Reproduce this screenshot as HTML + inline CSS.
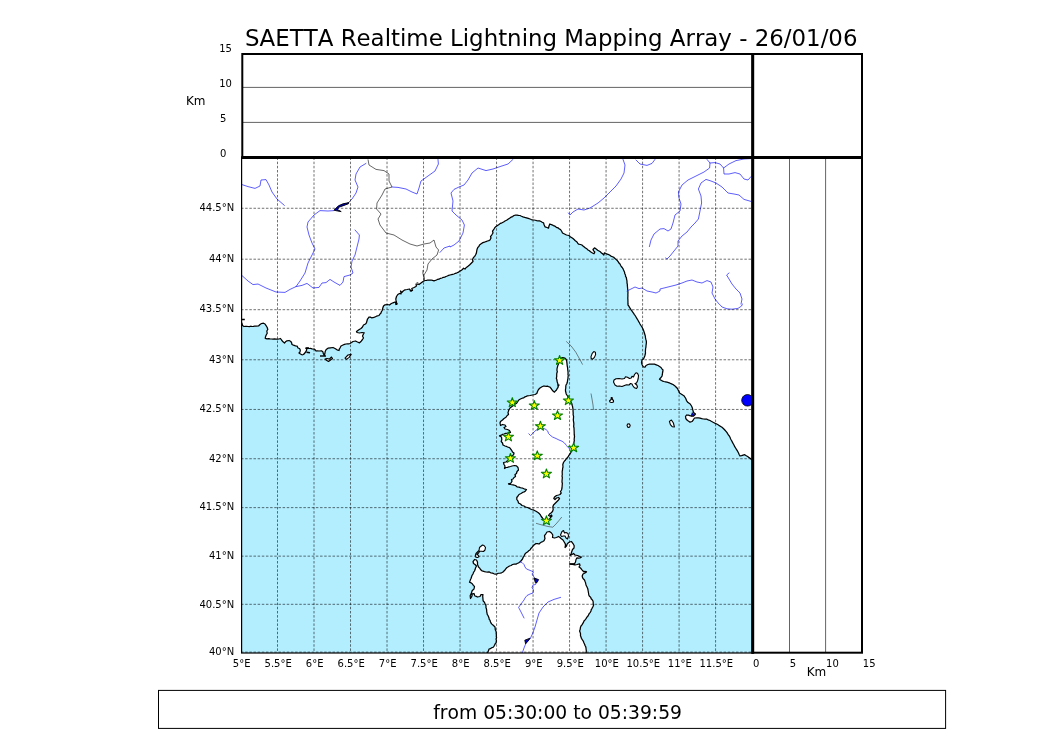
<!DOCTYPE html>
<html lang="en"><head><meta charset="utf-8"><title>SAETTA Realtime Lightning Mapping Array</title>
<style>html,body{margin:0;padding:0;background:#fff}svg{display:block}</style></head>
<body>
<svg width="1050" height="750" viewBox="0 0 1050 750" font-family="'DejaVu Sans', 'Liberation Sans', sans-serif" fill="#000">
<rect width="1050" height="750" fill="#fff"/>
<defs><clipPath id="mc"><rect x="241.6" y="157.5" width="511.1" height="495.5"/></clipPath></defs>
<g clip-path="url(#mc)">
<rect x="241" y="157.5" width="513" height="495.5" fill="#b3eeff"/>
<path d="M239 322.5 L241 322.5 L241.8 323 L242.5 325.5 L244 326.5 L245.33 326.39 L246.67 326.28 L248 326.5 L249.33 326.6 L250.67 326.23 L252 326.5 L253.34 326.42 L254.66 326.21 L256 326.2 L258.5 326 L260 324.5 L261.5 323.5 L263.5 323.2 L265 324 L266.2 325.8 L267.2 327.5 L267.8 329.5 L266.8 331 L267.2 333.2 L266.2 335 L265.5 336.8 L265.2 338.3 L267 338.8 L268.5 338.52 L270 338.8 L271.5 339 L273 339.2 L274.5 338.9 L276 339.2 L277.5 339.06 L279 339 L280.5 338.5 L281.5 340 L283 341.8 L284.5 343 L285.5 341.8 L287 340.8 L289 340.5 L290.5 341.2 L291.5 342.5 L292 344.5 L293.5 345.2 L295.5 345.8 L297.2 346.2 L298 348 L299.5 348.5 L300.3 350 L300 352 L299 353 L300.5 354 L302 354.8 L303.5 354.5 L304.8 353 L306 351.5 L306.8 349.5 L306 348.4 L307.51 348.17 L309 348.5 L310.53 348.39 L312 348.8 L314.5 349.2 L316.2 351 L317.6 350.95 L319 351 L321.5 350.8 L323 352 L323.2 353.31 L323.8 354.5 L324.2 355.6 L324.8 354 L325.2 351.5 L326.2 349.5 L328 348.2 L330.5 347.8 L333 347.5 L335 348.5 L337 349.8 L339 350.5 L339.28 349.16 L340 348 L341 346 L343 345 L344.44 344.33 L346 344 L347.34 343.91 L348.7 343.95 L350 343.5 L351.53 342.54 L353 341.5 L355.5 341 L357.5 342 L359.5 342.8 L361.2 341.2 L362.5 339.5 L363.5 338 L362.5 336 L363.5 334 L364.2 332.8 L362 332.5 L359.5 333 L357 332.5 L356.5 331.5 L358.5 330 L359.72 329.19 L361 328.5 L362.5 327 L363.5 325 L365.5 324 L366.42 322.89 L366.8 321.5 L367.5 319 L369 317 L370.34 317.12 L371.5 317.8 L373.04 317.72 L374.5 317.2 L376.5 316.2 L379 315.5 L379.89 314.17 L381 313 L381.39 311.65 L382.2 310.5 L382.8 308 L383.5 306 L385 304.8 L387.5 304.5 L389.5 305 L391 303.8 L393 302.8 L395 302 L395.73 303.16 L396 304.5 L397.2 304 L396.59 302.8 L396.2 301.5 L395.8 299 L396.5 296.5 L397.8 294.5 L399.5 293.5 L401 293.8 L400.95 292.36 L400.5 291 L401.8 292.5 L403.2 291 L405 289.8 L407 289.5 L409.5 289 L411 291 L412.5 290.5 L411.8 288.5 L414 287.5 L416 286.5 L416.42 285.16 L417.2 284 L419 284.5 L421 283 L423 281.5 L425 280.5 L426.51 280.3 L428 280 L429.5 280.09 L431 280 L432.52 280.32 L434 280.8 L435.26 280.43 L436.5 280 L437.66 279.33 L439 279.2 L440.4 278.34 L442 278 L443.27 277.32 L444.71 277.11 L446 276.5 L447.32 275.96 L448.62 275.39 L450 275 L451.35 274.72 L452.66 274.3 L454 274 L455.45 273.28 L457 272.8 L458.6 272.06 L460 271 L461.32 270.36 L462.5 269.5 L463.5 268.2 L465 269 L465.88 267.88 L467 267 L468.28 266.04 L469.5 265 L470.51 264.01 L471.5 263 L473 261.5 L472.5 259.5 L473.5 257.5 L474.69 256.4 L475.5 255 L476.14 253.8 L476.5 252.5 L476.8 250.5 L477.17 248.96 L477.8 247.5 L478.9 246.42 L479.5 245 L481.5 243.5 L482.9 242.63 L484.5 242.2 L485.98 241.55 L487.5 241 L488.81 240.65 L490 240 L491 238 L490.5 236.5 L492 234.5 L493 233 L492.5 231 L494 229 L494.83 227.61 L496 226.5 L497.5 225.49 L499 224.5 L500.35 223.39 L502 222.8 L503.56 221.99 L505 221 L506.58 220.3 L508 219.3 L509.53 218.29 L511 217.2 L512.62 216.56 L514 215.5 L515.49 215.23 L517 215.2 L518.49 215.47 L520 215.5 L521.48 216.21 L523 216.8 L524.74 217.35 L526.5 217.8 L528.26 218.37 L530 219 L531.28 219.54 L532.6 219.94 L534 220 L535.34 220.25 L536.65 220.64 L538 220.8 L539.56 220.88 L541 221.5 L542.19 222.26 L543.5 222.8 L544.2 225 L545 226.8 L547 227.5 L548.5 228.2 L549 226 L549.8 224 L552 224.8 L553.46 225.59 L555 226.2 L556.35 227.28 L558 227.8 L559.13 228.82 L560.5 229.5 L561.8 231.5 L562.5 233 L564.5 234 L566.5 235 L569 235.5 L570.5 237 L571.82 237.63 L573 238.5 L574.05 239.45 L575 240.5 L577 242 L577.66 243.16 L578.5 244.2 L580.5 244.5 L581.91 244.99 L583 246 L584.27 246.98 L585.5 248 L586.88 248.83 L588 250 L589.39 250.7 L590.5 251.8 L592.5 253 L594 253.8 L594.8 252 L593.67 250.91 L593 249.5 L594.5 247.8 L596.5 249.2 L597.65 250.24 L599 251 L600.4 251.81 L601.5 253 L602.76 253.88 L603.8 255 L604.5 252.8 L606.5 253.8 L608.03 254.34 L609.5 255 L610.88 256.1 L612.5 256.8 L613.9 257.43 L615 258.5 L616.27 259.63 L617.5 260.8 L618.31 261.89 L618.97 263.08 L620 264 L620.56 265.28 L621.27 266.46 L622.2 267.5 L622.93 268.6 L623.45 269.81 L624 271 L624.58 272.3 L624.77 273.75 L625.5 275 L625.55 276.4 L626.38 277.61 L626.5 279 L626.87 280.31 L627 281.65 L627 283 L627.34 284.31 L627.34 285.67 L627.5 287 L627.59 288.51 L627.8 290 L627.8 290 L627.88 291.36 L627.96 292.73 L627.87 294.09 L627.9 295.45 L627.87 296.82 L627.8 298.18 L627.88 299.55 L627.94 300.91 L627.94 302.27 L627.94 303.64 L628 305 L628.89 306.14 L629.52 307.45 L630.34 308.64 L631.13 309.85 L632 311 L632.74 312.24 L633.62 313.39 L634.42 314.59 L635.28 315.75 L636 317 L636.64 318.18 L637.42 319.28 L638.09 320.45 L638.73 321.63 L639.4 322.79 L640 324 L640.78 325.23 L641.59 326.44 L642.35 327.69 L643 329 L643.58 330.47 L644.09 331.97 L644.53 333.49 L645 335 L645.39 336.38 L645.47 337.82 L645.81 339.21 L646.2 340.58 L646.4 342 L646.31 343.34 L646.14 344.67 L645.98 346 L645.89 347.34 L645.57 348.66 L645.5 350 L645.38 351.5 L645.5 353 L645.16 354.5 L644.8 356 L644.15 357.5 L643.5 359 L642 360 L641.5 362.5 L642.2 365 L643.5 367 L645 367.2 L646 365.5 L648 364.5 L649.48 364.15 L651 364 L652.76 364 L654.5 364.2 L656.26 364.81 L658 365.5 L659.53 366.45 L661 367.5 L661.94 368.8 L663 370 L662.83 371.51 L662.5 373 L662.36 374.52 L662 376 L660.5 378 L659.5 379.2 L661.5 380.5 L662.71 381.1 L664 381.5 L665.5 381.86 L667 382.2 L668.53 382.62 L670 383.2 L671.5 383.86 L673 384.5 L674.32 385.41 L675.5 386.5 L676.5 387.5 L677.5 388.5 L678.05 389.8 L678.8 391 L679.5 393 L681.5 394.2 L682.7 395.07 L684 395.8 L684.71 396.93 L685.5 398 L686.05 399.23 L686.5 400.5 L688 402.5 L689.12 403.22 L690.2 404 L691.5 406 L692.07 407.22 L692.5 408.5 L693 411 L693.8 412.8 L695.5 414 L694.45 414.95 L693.5 416 L691 416 L689.75 415.59 L688.5 415.2 L686.5 415 L685.5 416.5 L685.8 418.5 L686.6 419.54 L687.5 420.5 L688.77 421.32 L690 422.2 L692 421.5 L693.5 419.5 L694.5 418 L697 417.8 L698.51 417.93 L700 418.2 L701.73 418.67 L703.5 419 L705 419.12 L706.5 419 L708.22 419.83 L710 420.5 L711.3 421.3 L712.62 422.04 L713.97 422.72 L715.32 423.38 L716.7 424 L718.06 424.77 L719.35 425.65 L720.69 426.45 L722 427.3 L723.08 428.22 L724.08 429.22 L725.04 430.26 L726 431.3 L726.87 432.44 L727.61 433.68 L728.39 434.89 L729.3 436 L729.99 437.32 L730.56 438.7 L731.22 440.03 L732 441.3 L732.58 442.7 L733.38 443.99 L734.09 445.32 L734.7 446.7 L735.58 447.99 L736.41 449.31 L737.24 450.64 L738 452 L738.64 453.35 L739.25 454.71 L740 456 L741.59 455.65 L743.13 455.13 L744.7 454.7 L746.33 455.73 L748 456.7 L749.13 457.66 L750.41 458.42 L751.5 459.43 L752.7 460.3 L755.1 462.3 L755.1 154.5 L239 154.5Z" fill="#fff" stroke="#000" stroke-width="1.25" stroke-linejoin="round"/>
<path d="M559 385 L558.27 386.16 L558 387.5 L557.1 388.66 L556.5 390 L555.39 391 L554.5 392.2 L553 391 L551.5 389 L550 387.2 L548.75 386.71 L547.5 386.2 L545.99 386.29 L544.5 386 L543.2 386.23 L542 386.8 L540 388 L538.5 389.5 L537.5 391.5 L536.8 393.5 L535 394.5 L532.5 395 L530 395.5 L527.5 395.8 L526.29 396.39 L525 396.8 L523.5 398 L522.19 398.23 L521 398.8 L519 399.8 L517.8 401.5 L516.5 403.5 L515.1 404.01 L514 405 L512 406.5 L510 408 L508.8 410 L508.46 411.27 L508 412.5 L508.5 414.5 L507.2 415.5 L506 417.2 L504 418.5 L502.5 420 L500.5 421.5 L500 423 L500.5 425.5 L502.5 424.5 L505 425 L506 426.5 L504 427.5 L505 429 L507.5 429.5 L509.5 430.5 L510.5 432.5 L509.01 432.91 L507.5 433.2 L505.69 433.34 L504 434 L502.62 434.37 L501.4 435.19 L500 435.5 L499.5 436 L501.5 437 L501.8 439.5 L501.2 441.5 L502.5 443 L503 445 L505 446 L506.33 446.29 L507.5 447 L508.83 447.31 L510 448 L511.5 450 L512.5 452 L514 453 L513.5 455 L512 455.5 L511.12 456.55 L510.51 457.74 L510 459 L508.79 460.17 L507.22 460.84 L506 462 L503.5 462.5 L504 464.5 L505 466 L504.5 468.5 L506 467.5 L507.57 467.43 L509 466.8 L510.52 466.49 L512 466 L514.5 465.5 L516.5 465.8 L518 467.5 L518.5 470 L517 471.5 L516.5 473.5 L515 474.5 L515.5 476.5 L514 477.5 L513 479 L511.5 479.5 L512 481.2 L511 483 L509.78 483.49 L508.5 483.8 L510.5 484.5 L513 484.8 L515.5 485.5 L517 486.8 L519 487.2 L520.24 487.63 L521.5 488 L522.82 488.19 L524 488.8 L526.5 489.5 L525.5 491 L524.38 491.86 L523 492.2 L521 493.5 L519 494.5 L518 496 L516.8 497.5 L516.8 499.5 L518 501.2 L518.5 503 L520.5 504 L522 505.5 L524 506 L525.5 507 L527.5 507.5 L529.5 508.5 L531.5 509.5 L534 510.2 L536 511.2 L538 512.5 L539.5 513.8 L540.5 515 L541.2 516.5 L542.5 518 L543.3 519.2 L544.5 520 L546.5 520.8 L547.79 520.23 L549 519.5 L550.5 517.5 L552 516 L551.5 515 L550 516.2 L548.5 515.5 L549.5 514 L551 513 L552.5 511.5 L553.2 509.5 L552.8 507 L553.5 505 L555 503.5 L556.5 502 L558 500.5 L559.5 498.5 L558.5 497.5 L556.5 498 L555 499.5 L553.8 498.5 L554.5 497 L556.5 495.5 L558.5 495 L560 494.5 L561.2 493 L560.5 491.5 L561.5 490 L562 488 L562.12 486.5 L562.2 485 L562.36 483.48 L562 482 L562.06 480.5 L562.2 479 L562.32 477.49 L562 476 L562.3 474.51 L562.2 473 L562.18 471.48 L562.5 470 L562.6 468.48 L563 467 L562.8 464.5 L563.5 462.5 L564.4 461.17 L565.5 460 L566.38 458.65 L567.5 457.5 L568.38 456.36 L569.05 455.08 L570 454 L570.71 452.72 L571.5 451.5 L572.06 450.14 L573 449 L573.44 447.63 L573.31 446.19 L573.58 444.8 L573.85 443.41 L574 442 L574.34 440.68 L574.15 439.33 L574.3 438 L574.52 436.33 L574.23 434.67 L574.2 433 L574.15 431.33 L574.08 429.67 L574 428 L573.64 426.34 L573.83 424.67 L573.8 423 L573.51 421.34 L573.3 419.68 L573.5 418 L573.58 416.32 L573.1 414.68 L573.2 413 L573.05 411.33 L573.07 409.66 L572.8 408 L572.57 406.66 L572.16 405.35 L572 404 L571.34 402.66 L570.7 401.32 L570 400 L569.31 398.58 L568.13 397.46 L567.5 396 L566.2 394 L565.89 392.49 L565.5 391 L565.5 389.48 L565.8 388 L565.77 386.49 L566 385 L566.8 383.72 L567.3 382.3 L567.48 380.98 L567.69 379.65 L567.98 378.35 L568 377 L568.25 375.68 L567.97 374.35 L568.07 373.02 L568 371.7 L567.83 370.35 L567.66 369 L567.59 367.64 L567.3 366.3 L567.12 364.98 L567.02 363.65 L566.84 362.33 L566.7 361 L566.24 359.53 L565.3 358.3 L564.03 357.88 L562.7 357.7 L561.25 358.15 L560 359 L559.39 360.28 L559.3 361.7 L558.78 363.4 L558 365 L557.52 366.64 L557.1 368.3 L556.93 370.02 L557.3 371.7 L556.8 373.31 L556.7 375 L556.72 376.68 L556.3 378.3 L556.85 379.58 L557 380.96 L557.3 382.3 L557.79 383.59 L557.92 384.94 L558 386.3Z" fill="#fff" stroke="#000" stroke-width="1.25" stroke-linejoin="round"/>
<path d="M487 655.7 L487 654 L487.26 652.65 L488.09 651.54 L488.66 650.31 L489 649 L490.42 648.69 L491.59 647.74 L493 647.4 L493.86 646.37 L494.58 645.25 L495.07 643.98 L496 643 L496.3 641.68 L496.41 640.35 L496.03 638.99 L496.54 637.68 L496.27 636.33 L496.4 635 L496.16 633.67 L496.22 632.28 L495.9 630.97 L495.27 629.7 L495.19 628.34 L495 627 L494.01 625.99 L492.93 625.07 L491.87 624.13 L491 623 L490.4 621.79 L490.12 620.45 L489.23 619.36 L489 618 L488.53 616.74 L487.97 615.51 L487.23 614.36 L487 613 L486.7 611.61 L486.67 610.19 L486.41 608.8 L485.94 607.44 L486 606 L485.66 604.67 L484.95 603.52 L484.45 602.27 L483.39 601.31 L483 600 L483 599.5 L482.86 597.83 L482.72 596.17 L483 594.5 L481 594.5 L480 596.5 L477.5 597 L476.31 596.34 L475 596 L474.37 594.8 L474 593.5 L472.2 593.8 L472.07 595.45 L471.5 597 L470.5 598.5 L470.3 597 L470.2 595.5 L471.03 594.09 L471.58 592.57 L472 591 L472.9 589.9 L474 589 L474.5 586.5 L473.34 585.38 L472.5 584 L471.13 582.88 L469.5 582.2 L470.04 580.86 L470.5 579.5 L471.11 578.29 L471.5 577 L472.03 575.39 L473 574 L473.51 572.38 L474.5 571 L475.11 569.54 L475.5 568 L476.5 566 L475 564.5 L473.5 563.5 L473 561.5 L474.5 559.5 L476.5 560 L477.5 562 L477.5 564.5 L478.04 565.73 L478.5 567 L479.7 568.09 L480.5 569.5 L481.6 570.57 L483 571.2 L484.48 571.68 L486 572 L487.51 572.08 L489 571.8 L491 573 L492.56 573.16 L494 573.8 L495.5 574.01 L497 573.8 L498.45 573.25 L500 573.2 L501.58 572.8 L503 572 L503.98 570.98 L505 570 L505.92 568.69 L507 567.5 L508.27 566.78 L509.5 566 L511.11 565.48 L512.5 564.5 L514.24 564.21 L516 564.2 L517.15 563.4 L518.5 563 L520.5 561.5 L521.51 560.26 L522.5 559 L523.11 557.43 L524 556 L525 554 L526.1 552.82 L527.5 552 L528.62 550.84 L530 550 L530.79 548.58 L532 547.5 L532.86 546.14 L534 545 L536 543.5 L537.52 543.64 L539 544 L540.18 542.91 L541.5 542 L542.82 541.54 L544 540.8 L545 538.5 L544.63 537.02 L544.5 535.5 L546 533.5 L547 532 L549.5 531.5 L551.5 533 L552.8 535 L552.5 537.5 L554.5 538 L556.5 537.5 L558.5 536.5 L560 537.5 L561 538.5 L563 540 L563.75 541.25 L564.5 542.5 L565.18 543.68 L565.5 545 L565 547.5 L566.5 546 L566.91 544.72 L567.5 543.5 L569.5 542 L571.5 541.5 L573 543.5 L574.2 545.8 L574 548 L572.5 549.5 L571.8 551.5 L571.2 553.5 L570 555.5 L572 554.5 L573.5 553.5 L575 555 L577.5 555.5 L579.5 556.5 L581.5 557 L580 558 L578.48 558.19 L577 557.8 L576 559.5 L575.5 562 L574.5 563.8 L572 564 L569.5 564 L571.02 564.1 L572.5 564.5 L575 565 L577 564.5 L579.5 563.8 L580 565.5 L579 567 L580.5 568 L582 569.8 L583.5 571.5 L585.03 571.36 L586.5 571.8 L585 573 L583 574 L582.2 576 L582.47 577.29 L583 578.5 L584.5 580 L584.97 581.26 L585.5 582.5 L586 585 L587 587 L587.68 588.44 L588 590 L588.26 591.5 L588.5 593 L588.8 595 L589.43 596.35 L590.67 597.26 L591.16 598.71 L592.19 599.78 L593 601 L593.2 602.33 L593.2 603.7 L593.6 605 L593.14 606.23 L592.56 607.4 L591.94 608.56 L591.25 609.68 L591 611 L590.33 612.3 L589.33 613.4 L588.64 614.69 L588 616 L586.94 617.2 L586.04 618.54 L585.07 619.81 L584 621 L583.48 622.39 L582.69 623.61 L581.97 624.88 L581 626 L580.39 627.63 L580.21 629.37 L579.6 631 L580.15 632.45 L580.54 633.94 L580.45 635.55 L581 637 L581.4 638.3 L582.11 639.45 L582.92 640.54 L583.54 641.73 L584 643 L584.62 644.2 L585.02 645.49 L585.69 646.67 L586 648 L586.13 649.5 L586.34 650.99 L586.02 652.52 L586.4 654 L586.4 655.7Z" fill="#fff" stroke="#000" stroke-width="1.25" stroke-linejoin="round"/>
<path d="M479.5 547.5 L481 546.2 L482.5 545 L484 545.5 L485.5 547.5 L485 550 L483.5 551.5 L481.5 551.2 L480 551.2 L478.5 553 L477 554.5 L478 555 L479 556.8 L477.5 557.5 L475.8 557.2 L475.5 555 L476 553.5 L477.5 552 L479 550.5Z" fill="#fff" stroke="#000" stroke-width="1.1" stroke-linejoin="round"/>
<path d="M613.5 382 L614 380 L616 378.8 L619 378.5 L622 379 L624.5 378.5 L625.5 376.8 L627.5 377.2 L629.5 378.5 L631.2 378 L632 376.2 L633.5 377 L634.5 374.5 L636 372.8 L637.5 373.2 L638.5 375.5 L638.2 378.5 L637.5 381 L636.5 383 L635 383.5 L636.8 385 L637.5 387 L636.5 388.5 L634.5 387.8 L633 386 L632 384 L630.5 383.5 L629 385 L626.5 384.8 L624.5 385.5 L622 386.5 L619.5 386 L617 386.2 L615 385Z" fill="#fff" stroke="#000" stroke-width="1.1" stroke-linejoin="round"/>
<path d="M591.2 358.6 L591 356.6 L592.2 353.4 L593.8 351.6 L595.4 352.2 L595.6 354.6 L594.4 357.4 L592.6 359.2Z" fill="#fff" stroke="#000" stroke-width="1.1" stroke-linejoin="round"/>
<path d="M609.5 401 L610.5 400 L611.2 399.5 L611.2 397.5 L612.2 397.5 L612.4 399.5 L613.5 400.5 L613.5 402 L612 402.5 L610.2 402.2Z" fill="#fff" stroke="#000" stroke-width="1.1" stroke-linejoin="round"/>
<path d="M627 425.6 L627.6 424 L629.2 423.8 L630.2 425.4 L629.6 427.2 L628 427.4Z" fill="#fff" stroke="#000" stroke-width="1.1" stroke-linejoin="round"/>
<path d="M669.4 421.4 L671.4 420 L673.4 423 L674.4 427 L672.4 426.8 L670.4 424.6Z" fill="#fff" stroke="#000" stroke-width="1.1" stroke-linejoin="round"/>
<path d="M325 359 L327 358.5 L329.5 359 L331.5 357 L332.5 358.5 L330.5 360 L328.5 361.5 L326.5 360.2Z" fill="#fff" stroke="#000" stroke-width="1.1" stroke-linejoin="round"/>
<path d="M345 358.2 L348 355 L351.2 354.4 L349.2 357.4 L346.4 359.4Z" fill="#fff" stroke="#000" stroke-width="1.1" stroke-linejoin="round"/>
<path d="M560.5 535 L562 531.5 L563.5 530.5 L564.5 533 L566 532.5 L568 533.5 L568.5 536 L567.5 539 L566 538 L565 536 L563.5 536 L561.5 536.5Z" fill="#fff" stroke="#000" stroke-width="1.1" stroke-linejoin="round"/>
<path d="M241.5 319.5 L244.8 319.5" fill="none" stroke="#000" stroke-width="1.4"/>
<path d="M305.5 348 L309 348" fill="none" stroke="#000" stroke-width="1.4"/>
<path d="M306.5 352.2 L310 352.8" fill="none" stroke="#000" stroke-width="1.4"/>
<path d="M320 356 L326 356" fill="none" stroke="#000" stroke-width="1.4"/>
<path d="M569.5 564 L575 564" fill="none" stroke="#000" stroke-width="1.4"/>
<path d="M583.5 571.8 L586.5 571.8" fill="none" stroke="#000" stroke-width="1.4"/>
<path d="M508.5 483.8 L511 484" fill="none" stroke="#000" stroke-width="1.4"/>
<path d="M409.8 290.5 L412 290.8" fill="none" stroke="#000" stroke-width="1.4"/>
<path d="M395.6 304 L397 304.3" fill="none" stroke="#000" stroke-width="1.4"/>
<path d="M368 159.4 L369 165 L376 169.4 L384 170.6 L389 174 L389 181 L392 187 L385 189 L382 195 L377 203 L376.6 209 L381 214 L378 219 L380 225 L386 233 L394 235 L402 240 L410 244 L417 246 L424 244 L430 243 L434 240 L436 247 L438.6 250 L437 255 L432 259 L428 264 L427 270 L424 275 L424 280" fill="none" stroke="#262626" stroke-width="0.7" stroke-linejoin="round"/>
<path d="M423 270 L422.8 273 L423.5 276 L424.5 279 L424 280.5" fill="none" stroke="#262626" stroke-width="0.7" stroke-linejoin="round"/>
<path d="M415.5 285 L416.2 283.2 L417.8 282.4 L419 283.8" fill="none" stroke="#262626" stroke-width="0.7" stroke-linejoin="round"/>
<g fill="none" stroke="#2828ff" stroke-width="0.75" stroke-linejoin="round" stroke-linecap="round">
<path d="M242 184.6 L248 186.6 L255 188.4 L260 186 L261 180 L266 179.6 L269 185 L272 192 L277 199 L284.4 205.4"/>
<path d="M366 163.4 L360 167 L356 174 L355 180 L358 187 L356 193 L352 199 L348 203 L342 205 L338 206.6 L334 210.6 L328 211 L320 210.6 L314 215 L308 222 L307 227 L309 235 L312 243 L315 249 L312 255 L308 263 L305 273 L300 281 L296 286.6"/>
<path d="M242 275.6 L248 281 L253 284.6 L258 284 L266 288 L276 292 L285 292.4 L290 289.4 L296 286.6 L302 285.4 L307 283.4 L313 288 L319 287.4 L322 283 L326 282.6 L330 279.4 L334 282 L340 285.4 L343 282 L344 276.6 L350 275 L353 273 L351 267 L352 261 L355 255 L357 247 L359 239 L359.4 235 L355 230"/>
<path d="M438 159.4 L438.4 164 L435 171 L428 176 L421 181 L419 188 L417 194 L412 192 L406 189 L398 187.4 L392 187"/>
<path d="M440 252.4 L444 248 L450 246 L450 247 L454 245 L459 241 L463 233 L464.4 225 L462 220 L456 215 L452 211 L453 201 L451 193 L454 189.4 L459 187 L464 185 L468 180 L472 173 L478 168 L486 170.6 L493 169 L500 166.6 L508 164 L513 159.4"/>
<path d="M623 159.4 L625 165 L624 173 L621 179 L616 186 L610 192 L604 198 L598 203 L590 208 L584 210 L578 209 L573 212 L570 215 L568.4 213"/>
<path d="M636 160 L640 164 L647 165.4 L652 163.4 L655 159.4"/>
<path d="M649.4 246.6 L651 240 L654 234 L660 229 L660 229 L664 228.6 L668 231 L671 229 L673 223 L675 215 L680 211 L681 204 L679 198 L678.4 192 L682 185 L688 180 L696 176 L704 172 L709.6 168 L710 163 L707 159.4"/>
<path d="M627 291 L631 289 L635 287 L639 288.6 L642 288 L647 291 L652 292 L656 293 L660 291 L660 289 L668 287 L676 285 L682 283 L687 281 L692 280 L697 282 L702 283 L707 280.6 L711 282 L713 287 L712 293 L715 299 L719 304"/>
<path d="M710 163 L715 162.6 L720 164 L723.6 168 L729 164 L736 160.6 L744 159 L751 158.6"/>
<path d="M723.6 168 L724 174 L729 174 L735 172.6 L740 174 L744 179 L748 180 L751 176.6"/>
<path d="M751 201.4 L744 199.4 L739 195 L734 194 L728 193 L722 187 L716 183 L711 181 L706 179.4 L701 183 L698.4 189 L701 196 L701.6 203 L700 211 L698.4 219 L695 223 L691 227 L687 232 L682 236 L678 241 L678 246 L674 251 L670 256 L667 259 L665.6 258"/>
<path d="M729 273 L726.6 275 L729 279 L732 284 L736 289 L740 293 L742 299 L741 304"/>
<path d="M719.6 304.4 L722 307 L727 308.8 L732 309.2 L738 308.4 L741.6 306 L742.4 304"/>
<path d="M560.6 597.4 L554 599.4 L548 602 L543 607 L539 613 L537 620 L535 627 L532.4 634 L530 639 L526 643 L524 648 L522.4 652.6"/>
<path d="M528.8 433.8 L530.5 435.5 L532 434.2 L534 432 L536 430.2 L538.5 429 L541 428.2 L544 428.5 L546 429.5 L547.8 431.2 L548.5 433.5 L550 435 L552.5 437 L556 438.5 L559 440 L562 441.2 L564.5 443 L566.5 445.5 L568 447.5 L570 448.5"/>
<path d="M519.5 561.8 L522 562.5 L524 564.5 L525 567 L526.5 569 L529 570 L531.5 571 L533.5 572 L532 574 L534 577 L535 579 L536.5 582 L535.5 584.5 L533 585 L532 587.5 L533.5 590 L533 593 L530 594 L527 595.5 L525 598 L524 600 L521 604 L518.6 607.4 L521 612 L524 618"/>
</g>
<path d="M349 202.6 L343 203.8 L338.4 205.8 L334 210.2 L337.6 211 L341.2 211.6 L337.2 209.4 L339.6 207 L344 205.4 L348.4 203.8Z" fill="#0000c0" stroke="#000" stroke-width="0.9" stroke-linejoin="round"/>
<circle cx="747.5" cy="400.3" r="5.8" fill="#0000ff" stroke="#000" stroke-width="0.8"/>
<path d="M692.3 412.5 L694.8 415.5 L691 415.8Z" fill="#0000d0" stroke="#000" stroke-width="0.6"/>
<path d="M534 578 L538.6 579.6 L537 582.6 L535.4 582.8Z" fill="#0000c0" stroke="#000" stroke-width="0.9"/>
<path d="M524.8 640.2 L530 638.2 L527.6 641.6 L525.6 643.8Z" fill="#0000c0" stroke="#000" stroke-width="0.9"/>
<path d="M566.2 341.4 L571 345.8 L575.8 352.2 L579.8 359.4 L582.6 364.6" fill="none" stroke="#333" stroke-width="0.6"/>
<path d="M591 393.5 L592 399 L593 405 L593.5 410" fill="none" stroke="#333" stroke-width="0.6"/>
<path d="M536 523.3 L542 525 L548 526.5 L552.8 527.2 L556 524 L559 520.5 L561.8 517" fill="none" stroke="#333" stroke-width="0.6"/>
<path d="M277.51 157.5 V652.7 M314.01 157.5 V652.7 M350.52 157.5 V652.7 M387.03 157.5 V652.7 M423.54 157.5 V652.7 M460.04 157.5 V652.7 M496.55 157.5 V652.7 M533.06 157.5 V652.7 M569.56 157.5 V652.7 M606.07 157.5 V652.7 M642.58 157.5 V652.7 M679.09 157.5 V652.7 M715.59 157.5 V652.7 M241.0 652.10 H752.1 M241.0 604.30 H752.1 M241.0 556.15 H752.1 M241.0 507.63 H752.1 M241.0 458.74 H752.1 M241.0 409.45 H752.1 M241.0 359.78 H752.1 M241.0 309.69 H752.1 M241.0 259.19 H752.1 M241.0 208.27 H752.1" fill="none" stroke="#000" stroke-opacity="0.8" stroke-width="0.7" stroke-dasharray="2.5 1.66"/>
<path d="M559.6 355.47 L560.83 358.82 L564.64 358.88 L561.6 361 L562.72 364.39 L559.6 362.35 L556.48 364.39 L557.6 361 L554.56 358.88 L558.37 358.82Z" fill="#ffff00" stroke="#008000" stroke-width="1.1" stroke-linejoin="round"/>
<path d="M512.3 397.67 L513.53 401.02 L517.34 401.08 L514.3 403.2 L515.42 406.59 L512.3 404.55 L509.18 406.59 L510.3 403.2 L507.26 401.08 L511.07 401.02Z" fill="#ffff00" stroke="#008000" stroke-width="1.1" stroke-linejoin="round"/>
<path d="M534.3 400.57 L535.53 403.92 L539.34 403.98 L536.3 406.1 L537.42 409.49 L534.3 407.45 L531.18 409.49 L532.3 406.1 L529.26 403.98 L533.07 403.92Z" fill="#ffff00" stroke="#008000" stroke-width="1.1" stroke-linejoin="round"/>
<path d="M568.4 395.67 L569.63 399.02 L573.44 399.08 L570.4 401.2 L571.52 404.59 L568.4 402.55 L565.28 404.59 L566.4 401.2 L563.36 399.08 L567.17 399.02Z" fill="#ffff00" stroke="#008000" stroke-width="1.1" stroke-linejoin="round"/>
<path d="M557.5 410.57 L558.73 413.92 L562.54 413.98 L559.5 416.1 L560.62 419.49 L557.5 417.45 L554.38 419.49 L555.5 416.1 L552.46 413.98 L556.27 413.92Z" fill="#ffff00" stroke="#008000" stroke-width="1.1" stroke-linejoin="round"/>
<path d="M540.4 421.27 L541.63 424.62 L545.44 424.68 L542.4 426.8 L543.52 430.19 L540.4 428.15 L537.28 430.19 L538.4 426.8 L535.36 424.68 L539.17 424.62Z" fill="#ffff00" stroke="#008000" stroke-width="1.1" stroke-linejoin="round"/>
<path d="M508.4 431.97 L509.63 435.32 L513.44 435.38 L510.4 437.5 L511.52 440.89 L508.4 438.85 L505.28 440.89 L506.4 437.5 L503.36 435.38 L507.17 435.32Z" fill="#ffff00" stroke="#008000" stroke-width="1.1" stroke-linejoin="round"/>
<path d="M573.6 442.87 L574.83 446.22 L578.64 446.28 L575.6 448.4 L576.72 451.79 L573.6 449.75 L570.48 451.79 L571.6 448.4 L568.56 446.28 L572.37 446.22Z" fill="#ffff00" stroke="#008000" stroke-width="1.1" stroke-linejoin="round"/>
<path d="M537.3 450.87 L538.53 454.22 L542.34 454.28 L539.3 456.4 L540.42 459.79 L537.3 457.75 L534.18 459.79 L535.3 456.4 L532.26 454.28 L536.07 454.22Z" fill="#ffff00" stroke="#008000" stroke-width="1.1" stroke-linejoin="round"/>
<path d="M510.4 453.47 L511.63 456.82 L515.44 456.88 L512.4 459 L513.52 462.39 L510.4 460.35 L507.28 462.39 L508.4 459 L505.36 456.88 L509.17 456.82Z" fill="#ffff00" stroke="#008000" stroke-width="1.1" stroke-linejoin="round"/>
<path d="M546.4 468.97 L547.63 472.32 L551.44 472.38 L548.4 474.5 L549.52 477.89 L546.4 475.85 L543.28 477.89 L544.4 474.5 L541.36 472.38 L545.17 472.32Z" fill="#ffff00" stroke="#008000" stroke-width="1.1" stroke-linejoin="round"/>
<path d="M546.4 515.87 L547.63 519.22 L551.44 519.28 L548.4 521.4 L549.52 524.79 L546.4 522.75 L543.28 524.79 L544.4 521.4 L541.36 519.28 L545.17 519.22Z" fill="#ffff00" stroke="#008000" stroke-width="1.1" stroke-linejoin="round"/>
</g>
<rect x="241.6" y="157.5" width="511.1" height="495.5" fill="none" stroke="#000" stroke-width="1.2"/>
<path d="M242 87.4 H752 M242 122.4 H752" stroke="#3c3c3c" stroke-width="0.8" fill="none"/>
<path d="M789.5 157.5 V652.7 M825.6 157.5 V652.7" stroke="#3c3c3c" stroke-width="0.8" fill="none"/>
<rect x="242.3" y="54.0" width="619.7" height="103.5" fill="none" stroke="#000" stroke-width="2"/>
<rect x="752.7" y="54.0" width="109.29999999999995" height="598.7" fill="none" stroke="#000" stroke-width="2"/>
<path d="M241.3 157.5 H863.0" stroke="#000" stroke-width="3" fill="none"/>
<path d="M752.7 53.0 V653.7" stroke="#000" stroke-width="3" fill="none"/>
<rect x="158.5" y="690.4" width="787.1" height="38.0" fill="none" stroke="#000" stroke-width="1"/>
<text id="title" x="551.3" y="46.3" font-size="22.9" style="font-kerning:none" text-anchor="middle">SAETTA Realtime Lightning Mapping Array - 26/01/06</text>
<text id="btm" x="557.6" y="718.7" font-size="18.73" style="font-kerning:none" text-anchor="middle">from 05:30:00 to 05:39:59</text>
<g font-size="10">
<text x="219.2" y="51.7">15</text>
<text x="219.2" y="87">10</text>
<text x="219.9" y="121.8">5</text>
<text x="219.9" y="156.7">0</text>
<text x="753.1" y="666.7">0</text>
<text x="789.8" y="666.7">5</text>
<text x="826.1" y="666.7">10</text>
<text x="862.8" y="666.7">15</text>
<text x="234.2" y="655.1" text-anchor="end">40°N</text>
<text x="234.2" y="608.3" text-anchor="end">40.5°N</text>
<text x="234.2" y="559.2" text-anchor="end">41°N</text>
<text x="234.2" y="509.6" text-anchor="end">41.5°N</text>
<text x="234.2" y="461.7" text-anchor="end">42°N</text>
<text x="234.2" y="411.5" text-anchor="end">42.5°N</text>
<text x="234.2" y="362.8" text-anchor="end">43°N</text>
<text x="234.2" y="311.7" text-anchor="end">43.5°N</text>
<text x="234.2" y="262.2" text-anchor="end">44°N</text>
<text x="234.2" y="211.3" text-anchor="end">44.5°N</text>
<text x="241.7" y="667.4" text-anchor="middle">5°E</text>
<text x="278.2" y="667.4" text-anchor="middle">5.5°E</text>
<text x="314.7" y="667.4" text-anchor="middle">6°E</text>
<text x="351.2" y="667.4" text-anchor="middle">6.5°E</text>
<text x="387.7" y="667.4" text-anchor="middle">7°E</text>
<text x="424.2" y="667.4" text-anchor="middle">7.5°E</text>
<text x="460.7" y="667.4" text-anchor="middle">8°E</text>
<text x="497.2" y="667.4" text-anchor="middle">8.5°E</text>
<text x="533.8" y="667.4" text-anchor="middle">9°E</text>
<text x="570.3" y="667.4" text-anchor="middle">9.5°E</text>
<text x="606.8" y="667.4" text-anchor="middle">10°E</text>
<text x="643.3" y="667.4" text-anchor="middle">10.5°E</text>
<text x="679.8" y="667.4" text-anchor="middle">11°E</text>
<text x="716.3" y="667.4" text-anchor="middle">11.5°E</text>
</g>
<text x="195.7" y="105.3" font-size="12" text-anchor="middle">Km</text>
<text x="816.5" y="676.1" font-size="12" text-anchor="middle">Km</text>
</svg>
</body></html>
